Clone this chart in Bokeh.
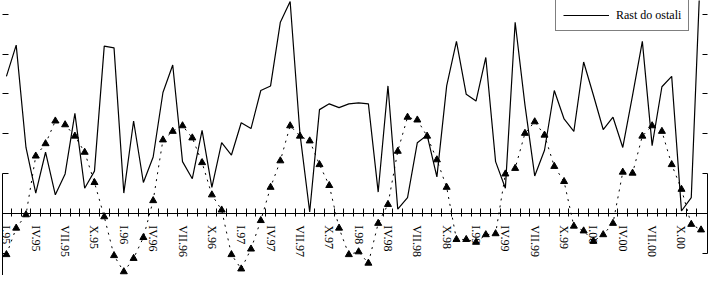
import math
from bokeh.plotting import figure
from bokeh.models import Range1d, LinearAxis, FixedTicker, Legend, LegendItem, ColumnDataSource
from bokeh.core.properties import value
from bokeh.embed import file_html
from bokeh.resources import INLINE

# ---- data (monthly, I.95 .. XII.00) ----
solid_values = [
    6.88, 8.45, 3.31, 1.02, 3.07, 0.93, 1.98, 5.02, 1.26, 2.12, 8.40, 8.31,
    1.02, 4.64, 1.55, 2.83, 6.07, 7.45, 2.60, 1.74, 4.17, 1.31, 3.55, 2.93,
    4.55, 4.26, 6.17, 6.40, 9.60, 10.64, 4.02, 0.07, 5.21, 5.50, 5.31, 5.50,
    5.55, 5.50, 1.07, 6.40, 0.21, 0.79, 3.55, 3.93, 1.83, 6.40, 8.64, 5.98,
    5.64, 7.83, 2.60, 1.26, 9.60, 5.45, 1.88, 3.17, 6.17, 4.74, 4.12, 7.60,
    5.93, 4.21, 4.83, 3.31, 5.93, 8.64, 3.40, 6.36, 6.88, 0.12, 0.79, 13.0,
]
triangle_values = [
    -2.07, -0.74, -0.07, 2.88, 3.50, 4.64, 4.45, 3.88, 3.07, 1.55, -0.17, -2.12,
    -2.93, -2.26, -1.21, 0.64, 3.69, 4.12, 4.40, 3.79, 2.55, 0.93, 0.17, -2.07,
    -2.79, -1.79, -0.36, 1.31, 2.64, 4.40, 3.88, 3.64, 2.45, 1.40, -0.74, -2.07,
    -1.93, -2.50, -0.50, 0.45, 3.12, 4.83, 4.69, 3.88, 2.69, 1.31, -1.31, -1.31,
    -1.45, -1.07, -1.02, 1.98, 2.26, 4.02, 4.60, 3.93, 2.36, 1.60, -0.64, -0.88,
    -1.40, -1.07, -0.50, 2.07, 2.02, 3.88, 4.40, 4.12, 2.45, 1.21, -0.55, -0.83,
]
months = list(range(len(solid_values)))
tick_labels = [
    "I.95", "IV.95", "VII.95", "X.95", "I.96", "IV.96", "VII.96", "X.96",
    "I.97", "IV.97", "VII.97", "X.97", "I.98", "IV.98", "VII.98", "X.98",
    "I.99", "IV.99", "VII.99", "X.99", "I.00", "IV.00", "VII.00", "X.00",
]
tick_months = [0, 3, 6, 9, 12, 15, 18, 21, 24, 27, 30, 33,
               36, 39, 42, 45, 48, 51, 54, 57, 60, 63, 66, 69]
y_ticks_low = [-2, 0, 2]
y_ticks_high = [4, 6, 8, 10]
legend_label = "Rast do ostali"

Y_MIN, Y_MAX = -3.12, 10.69

p = figure(width=709, height=275, output_backend="svg", toolbar_location=None,
           x_range=Range1d(-0.4, 71.66), y_range=Range1d(Y_MIN, Y_MAX),
           x_axis_location=None, y_axis_location=None,
           min_border_left=2, min_border_right=2, min_border_top=0, min_border_bottom=0)
p.outline_line_color = None
p.background_fill_color = "white"
p.xgrid.visible = False
p.ygrid.visible = False


def style_axis(ax, tick_in, tick_out, line=True):
    ax.major_tick_in = tick_in
    ax.major_tick_out = tick_out
    ax.minor_tick_line_color = None
    ax.major_label_text_font_size = "1px"
    ax.major_label_text_color = None
    ax.major_label_standoff = 0
    ax.axis_line_color = "black" if line else None
    ax.major_tick_line_color = "black"
    return ax


xaxis = LinearAxis(ticker=FixedTicker(ticks=[m + 0.5 for m in months[:-1]]), fixed_location=0)
style_axis(xaxis, 5, 3)
p.add_layout(xaxis, "below")

left_low = LinearAxis(ticker=FixedTicker(ticks=y_ticks_low), bounds=(Y_MIN, y_ticks_low[-1]))
style_axis(left_low, 6, 0)
p.add_layout(left_low, "left")
left_high = LinearAxis(ticker=FixedTicker(ticks=y_ticks_high))
style_axis(left_high, 6, 0, line=False)
p.add_layout(left_high, "left")

right_low = LinearAxis(ticker=FixedTicker(ticks=y_ticks_low), bounds=(y_ticks_low[0], y_ticks_low[-1]))
style_axis(right_low, 5, 0)
p.add_layout(right_low, "right")
right_high = LinearAxis(ticker=FixedTicker(ticks=y_ticks_high))
style_axis(right_high, 5, 0, line=False)
p.add_layout(right_high, "right")

src = ColumnDataSource(dict(month=months, solid=solid_values, tri=triangle_values))
solid_line = p.line("month", "solid", source=src, line_color="black", line_width=1.2)
p.line("month", "tri", source=src, line_color="black", line_width=1, line_dash="2 5")
p.scatter("month", "tri", source=src, marker="triangle", size=7,
          fill_color="black", line_color="black")

lab_src = ColumnDataSource(dict(x=tick_months, y=[0] * len(tick_months), text=tick_labels))
p.text("x", "y", "text", source=lab_src, angle=-math.pi / 2, text_align="left",
       text_baseline="middle", y_offset=12, text_font=value("Liberation Serif"),
       text_font_size="12px", text_color="black")

legend = Legend(items=[LegendItem(label=legend_label, renderers=[solid_line])],
                location=(553, 244), margin=0, padding=7, spacing=0,
                glyph_width=46, glyph_height=16, label_height=16, label_standoff=7,
                border_line_color="black", border_line_width=1,
                background_fill_color="white", background_fill_alpha=1.0,
                label_text_font="Liberation Serif", label_text_font_size="12px",
                label_text_color="black")
p.add_layout(legend)

open("out.html", "w").write(file_html(p, INLINE))
